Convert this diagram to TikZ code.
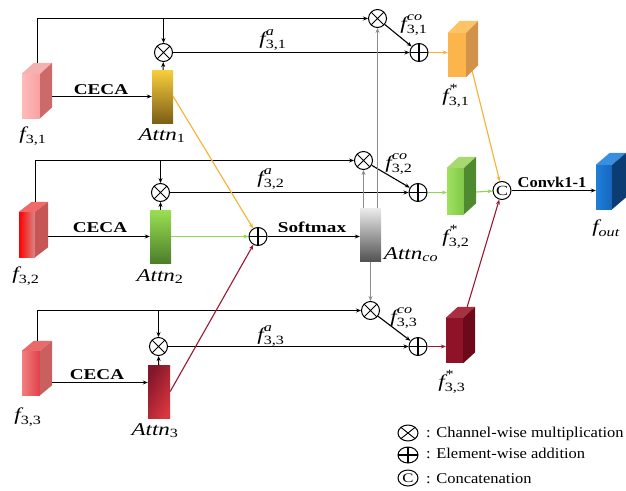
\documentclass[tikz,border=0pt]{standalone}
\usepackage{amsmath}
\usepackage{fontspec}
\setmainfont{Liberation Serif}
\newfontfamily\wideserif[FakeStretch=1.28]{Liberation Serif}
\newfontfamily\midserif[FakeStretch=1.1]{Liberation Serif}
\usetikzlibrary{arrows.meta,calc,shapes.geometric}

\definecolor{orng}{HTML}{F8B030}
\definecolor{grn}{HTML}{8CD850}
\definecolor{dred}{HTML}{9A1830}
\definecolor{aoT}{HTML}{F9CE3C}\definecolor{aoB}{HTML}{7D5E17}
\definecolor{agT}{HTML}{9AE052}\definecolor{agB}{HTML}{4D7E2A}
\definecolor{arL}{HTML}{82162A}\definecolor{arR}{HTML}{D8353E}
\definecolor{s1F}{HTML}{FBB54A}\definecolor{s1T}{HTML}{FCC464}\definecolor{s1S}{HTML}{D1934A}
\definecolor{s2L}{HTML}{A0E060}\definecolor{s2R}{HTML}{80C848}\definecolor{s2T}{HTML}{A8D870}\definecolor{s2S}{HTML}{4F8A30}
\definecolor{s3F}{HTML}{8F1228}\definecolor{s3T}{HTML}{A83040}\definecolor{s3S}{HTML}{6C0A1A}
\definecolor{oL}{HTML}{1F7FD8}\definecolor{oR}{HTML}{1565C0}\definecolor{oT}{HTML}{3A8EE0}\definecolor{oS}{HTML}{0B3D72}
\definecolor{i1L}{HTML}{FFBABA}\definecolor{i1R}{HTML}{F8A2A2}\definecolor{i1T}{HTML}{F5B0B0}\definecolor{i1S}{HTML}{CC6A6A}
\definecolor{i2L}{HTML}{FF0000}\definecolor{i2M}{HTML}{FF4848}\definecolor{i2R}{HTML}{D88888}\definecolor{i2T}{HTML}{F06A6A}\definecolor{i2S}{HTML}{C65656}
\definecolor{i3L}{HTML}{F08080}\definecolor{i3M}{HTML}{C8101A}\definecolor{i3R}{HTML}{E04048}\definecolor{i3T}{HTML}{E86A6A}\definecolor{i3S}{HTML}{C86060}

\newcommand\flab[2]{$\textit{f}^{\textit{#2}}_{\text{#1}}$}
\newcommand\blkfaces[5]{%
  \fill[#4] (#1.north west) -- ++(#2,-#3) -- ($(#1.north east)+(#2,-#3)$) -- (#1.north east) -- cycle;
  \fill[#5] (#1.north east) -- ++(#2,-#3) -- ($(#1.south east)+(#2,-#3)$) -- (#1.south east) -- cycle;
}

\begin{document}
\begin{tikzpicture}[x=1pt,y=-1pt,
  front/.style={rectangle, inner sep=0pt, draw=none},
  attn/.style={rectangle, inner sep=0pt, draw=none, minimum width=21pt, minimum height=53pt},
  arr/.style={-{Stealth[length=5pt,width=4pt]}, line width=1.1pt, black},
  carr/.style={-{Stealth[length=5pt,width=4pt]}, line width=1.1pt, draw=#1},
  garr/.style={-{Stealth[length=5pt,width=4pt]}, line width=1.2pt, draw=black!45},
  op/.style={circle, draw, line width=1pt, minimum size=18pt, inner sep=0pt, fill=white},
  mulpic/.style={path picture={\draw[line width=0.9pt]
      (path picture bounding box.north west) -- (path picture bounding box.south east)
      (path picture bounding box.north east) -- (path picture bounding box.south west);}},
  addpic/.style={path picture={\draw[line width=1.7pt]
      (path picture bounding box.north) -- (path picture bounding box.south)
      (path picture bounding box.west) -- (path picture bounding box.east);}},
  mul/.style={op, mulpic},
  add/.style={op, addpic},
  cat/.style={op, font=\wideserif\fontsize{14}{14}\selectfont},
  leg/.style={ellipse, draw, line width=1pt, minimum width=20pt, minimum height=16pt, inner sep=0pt, fill=white},
  lab/.style={anchor=base, inner sep=0pt, font=\wideserif\fontsize{18}{20}\selectfont},
  blab/.style={anchor=base, inner sep=0pt, font=\wideserif\bfseries\fontsize{15}{16}\selectfont},
  legf/.style={anchor=base west, inner sep=0pt, font=\midserif\fontsize{15}{16}\selectfont}
]
\useasboundingbox (0,0) rectangle (626,490);

% ---------- input blocks ----------
\node[front, minimum width=18pt, minimum height=44pt, left color=i1L, right color=i1R] (f31) at (31,96) {};
\blkfaces{f31}{12}{11}{i1T}{i1S}
\node[front, minimum width=16pt, minimum height=45pt, left color=i2L, middle color=i2M, right color=i2R] (f32) at (27,234.5) {};
\blkfaces{f32}{13}{10}{i2T}{i2S}
\node[front, minimum width=18pt, minimum height=44pt, left color=i3L, middle color=i3M, right color=i3R] (f33) at (31,373) {};
\blkfaces{f33}{12}{10}{i3T}{i3S}

\coordinate (t1) at ($(f31.north west)+(15.5,-11)$);
\coordinate (t2) at ($(f32.north west)+(16.5,-10)$);
\coordinate (t3) at ($(f33.north west)+(15.5,-10)$);
\coordinate (f31r) at ($(f31.east)+(12,0.5)$);
\coordinate (f32r) at ($(f32.east)+(13,2)$);
\coordinate (f33r) at ($(f33.east)+(12,9.5)$);

% ---------- attention maps ----------
\node[attn, top color=aoT, bottom color=aoB] (a1) at (162.5,96.5) {};
\node[attn, top color=agT, bottom color=agB] (a2) at (160.5,236.5) {};
\node[attn, minimum width=22pt, left color=arL, right color=arR, shading angle=60] (a3) at (159,391.5) {};
\node[attn, top color=black!8, bottom color=black!68] (aco) at (370.5,235) {};

% ---------- operators ----------
\node[mul] (m1) at (163.5,52.5) {};
\node[mul] (m2) at (160.5,192.5) {};
\node[mul] (m3) at (158.5,346.5) {};
\node[mul] (c1) at (377.5,18.5) {};
\node[mul] (c2) at (363.5,160.5) {};
\node[mul] (c3) at (370.5,310.5) {};
\node[add] (p1) at (419,52.5) {};
\node[add] (p2) at (418,192.5) {};
\node[add] (p3) at (418,346.5) {};
\node[add] (pm) at (258,236.5) {};
\node[cat] (cc) at (502,190.5) {C};

% ---------- output blocks ----------
\node[front, minimum width=18pt, minimum height=44pt, fill=s1F] (fs1) at (457,55) {};
\blkfaces{fs1}{12}{12}{s1T}{s1S}
\node[front, minimum width=17pt, minimum height=46pt, left color=s2L, right color=s2R] (fs2) at (455.5,191) {};
\blkfaces{fs2}{12}{11}{s2T}{s2S}
\node[front, minimum width=17pt, minimum height=45pt, fill=s3F] (fs3) at (454.5,340.5) {};
\blkfaces{fs3}{12}{11}{s3T}{s3S}
\node[front, minimum width=16pt, minimum height=44pt, left color=oL, right color=oR] (fout) at (604,187) {};
\blkfaces{fout}{14}{12}{oT}{oS}

% ---------- connectors row 1 ----------
\draw[arr] (t1) |- (c1);
\draw[arr] (m1 |- c1) -- (m1);
\draw[arr] (f31r) -- (f31r -| a1.west);
\draw[arr] (a1) -- (m1);
\draw[arr] (m1) -- (p1);
\draw[arr] (c1) -- (p1);
\draw[carr=orng] (p1) -- (p1 -| fs1.west);

% ---------- connectors row 2 ----------
\draw[arr] (t2) |- (c2);
\draw[arr] (m2 |- c2) -- (m2);
\draw[arr] (f32r) -- (f32r -| a2.west);
\draw[arr] (a2) -- (m2);
\draw[arr] (m2) -- (p2);
\draw[arr] (c2) -- (p2);
\draw[carr=grn] (p2) -- (p2 -| fs2.west);

% ---------- connectors row 3 ----------
\draw[arr] (t3) |- (c3);
\draw[arr] (m3 |- c3) -- (m3);
\draw[arr] (f33r) -- (f33r -| a3.west);
\draw[arr] (a3) -- (m3);
\draw[arr] (m3) -- (p3);
\draw[arr] (c3) -- (p3);
\draw[carr=dred] (p3) -- (p3 -| fs3.west);

% ---------- co-attention ----------
\draw[carr=orng] (a1.east) -- (pm);
\draw[carr=grn] (a2.east) -- (pm);
\draw[carr=dred] (a3.east) -- (pm);
\draw[arr] (pm) -- (pm -| aco.west);
\draw[garr] (c1 |- aco.north) -- (c1);
\draw[garr] (c2 |- aco.north) -- (c2);
\draw[garr] (c3 |- aco.south) -- (c3);

% ---------- fusion ----------
\coordinate (fs1b) at ($(fs1.south east)+(6,-6)$);
\coordinate (fs2r) at ($(fs2.east)+(12,1)$);
\coordinate (fs3t) at ($(fs3.north east)+(4,-11)$);
\draw[carr=orng] (fs1b) -- (cc);
\draw[carr=grn] (fs2r) -- (cc);
\draw[carr=dred] (fs3t) -- (cc);
\draw[arr] (cc) -- (cc -| fout.west);

% ---------- labels ----------
\node[lab] (lf31) at (33,139) {$\textit{f}_{\text{3,1}}$};
\node[lab] (lf32) at (26,279) {$\textit{f}_{\text{3,2}}$};
\node[lab] (lf33) at (28,420) {$\textit{f}_{\text{3,3}}$};
\node[lab] (la1) at (162,140) {\textit{Attn}$_{\text{1}}$};
\node[lab] (la2) at (160,281) {\textit{Attn}$_{\text{2}}$};
\node[lab] (la3) at (155,435) {\textit{Attn}$_{\text{3}}$};
\node[lab] (laco) at (411,259) {\textit{Attn}$_{\textit{co}}$};
\node[lab] (lfa1) at (273,44) {\flab{3,1}{a}};
\node[lab] (lfa2) at (271,183) {\flab{3,2}{a}};
\node[lab] (lfa3) at (271,340) {\flab{3,3}{a}};
\node[lab] (lfc1) at (414,29) {\flab{3,1}{co}};
\node[lab] (lfc2) at (399,168) {\flab{3,2}{co}};
\node[lab] (lfc3) at (404,322) {\flab{3,3}{co}};
\node[lab] (lfs1) at (456,101) {\flab{3,1}{*}};
\node[lab] (lfs2) at (456,242) {\flab{3,2}{*}};
\node[lab] (lfs3) at (452,387) {\flab{3,3}{*}};
\node[lab] (lfout) at (606,232) {$\textit{f}_{\textit{out}}$};
\node[blab] (lceca1) at (101,94) {CECA};
\node[blab] (lceca2) at (100,232) {CECA};
\node[blab] (lceca3) at (97,379) {CECA};
\node[blab] (lsoft) at (312,232) {Softmax};
\node[blab, font=\midserif\bfseries\fontsize{15}{16}\selectfont] (lconv) at (552,187) {Convk1-1};

% ---------- legend ----------
\node[leg, mulpic] (lg1) at (408,433) {};
\node[leg, addpic] (lg2) at (408,455) {};
\node[leg, font=\wideserif\fontsize{13}{13}\selectfont] (lg3) at (408,478) {C};
\node[legf] (lt1) at (426,437) {: Channel-wise multiplication};
\node[legf] (lt2) at (426,458) {: Element-wise addition};
\node[legf] (lt3) at (426,483) {: Concatenation};
\end{tikzpicture}
\end{document}
